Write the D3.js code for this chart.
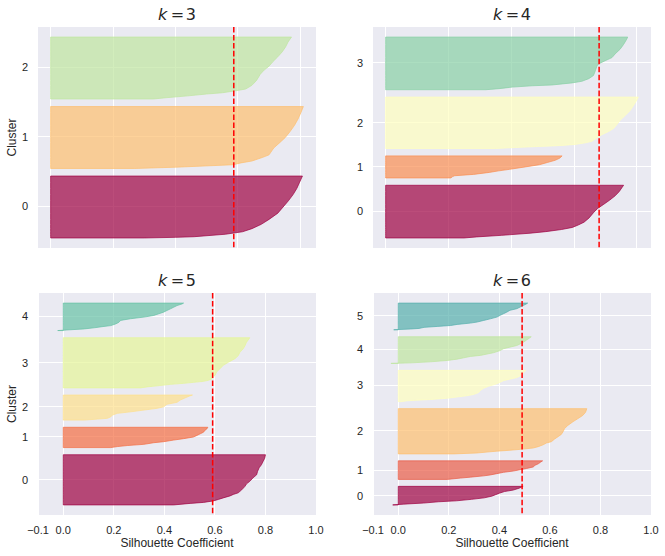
<!DOCTYPE html>
<html><head><meta charset="utf-8">
<script src="https://cdn.jsdelivr.net/npm/d3@7"></script>
<style>body{margin:0;background:#fff}</style>
</head><body>
<script>
// ---------------- data ----------------
const kValues = [3, 4, 5, 6];
const silhouetteScores = [0.587, 0.68, 0.591, 0.49];
const nSamples = 150;

const sizesK3 = [50, 50, 50];
const sizesK4 = [44, 19, 43, 44];
const sizesK5 = [43, 18, 22, 43, 24];
const sizesK6 = [17, 17, 40, 28, 24, 24];

// each cluster: sorted silhouette coefficients, as [fraction of cluster (bottom→top), coefficient]
const profilesK3 = [
  [[0,0.3],[0.01,0.4],[0.02,0.46],[0.06,0.56],[0.1,0.615],[0.15,0.645],[0.22,0.675],[0.3,0.7],[0.4,0.728],[0.5,0.745],[0.6,0.762],[0.7,0.777],[0.8,0.789],[0.9,0.798],[1,0.807]],
  [[0,0.27],[0.02,0.4],[0.06,0.585],[0.09,0.61],[0.12,0.645],[0.18,0.68],[0.22,0.7],[0.33,0.715],[0.42,0.735],[0.5,0.752],[0.6,0.768],[0.7,0.782],[0.8,0.793],[0.9,0.802],[1,0.81]],
  [[0,0.33],[0.02,0.37],[0.05,0.44],[0.08,0.5],[0.1,0.55],[0.13,0.59],[0.16,0.625],[0.22,0.645],[0.3,0.66],[0.4,0.672],[0.47,0.685],[0.53,0.7],[0.6,0.712],[0.68,0.728],[0.76,0.742],[0.84,0.753],[0.92,0.761],[1,0.772]]
];
const profilesK4 = [
  [[0,0.25],[0.02,0.29],[0.05,0.37],[0.09,0.46],[0.12,0.51],[0.16,0.56],[0.2,0.595],[0.25,0.615],[0.3,0.632],[0.38,0.648],[0.48,0.662],[0.56,0.675],[0.64,0.695],[0.72,0.714],[0.8,0.731],[0.88,0.744],[0.95,0.752],[1,0.758]],
  [[0,0.208],[0.06,0.213],[0.1,0.22],[0.16,0.28],[0.25,0.33],[0.32,0.36],[0.39,0.395],[0.5,0.445],[0.6,0.49],[0.7,0.515],[0.8,0.54],[0.9,0.555],[1,0.562]],
  [[0,0.351],[0.02,0.414],[0.04,0.488],[0.05,0.53],[0.06,0.562],[0.08,0.604],[0.11,0.636],[0.14,0.657],[0.21,0.673],[0.27,0.689],[0.33,0.71],[0.39,0.726],[0.46,0.736],[0.55,0.747],[0.64,0.763],[0.74,0.779],[0.83,0.789],[0.92,0.798],[1,0.805]],
  [[0,0.319],[0.02,0.361],[0.05,0.404],[0.075,0.467],[0.09,0.53],[0.11,0.562],[0.13,0.594],[0.16,0.625],[0.21,0.647],[0.27,0.662],[0.36,0.668],[0.45,0.673],[0.49,0.678],[0.55,0.699],[0.61,0.721],[0.68,0.731],[0.77,0.747],[0.86,0.758],[0.96,0.768],[1,0.771]]
];
const profilesK5 = [
  [[0,0.437],[0.03,0.502],[0.05,0.555],[0.08,0.594],[0.11,0.614],[0.14,0.633],[0.18,0.66],[0.21,0.673],[0.24,0.692],[0.3,0.706],[0.37,0.719],[0.42,0.725],[0.47,0.738],[0.54,0.751],[0.6,0.765],[0.67,0.769],[0.74,0.775],[0.8,0.784],[0.87,0.791],[0.93,0.797],[1,0.8]],
  [[0,0.188],[0.05,0.214],[0.1,0.253],[0.16,0.319],[0.24,0.358],[0.29,0.397],[0.37,0.437],[0.44,0.476],[0.52,0.515],[0.6,0.529],[0.68,0.542],[0.76,0.555],[0.86,0.561],[0.92,0.568],[1,0.572]],
  [[0,0.083],[0.04,0.135],[0.07,0.174],[0.13,0.188],[0.2,0.194],[0.27,0.214],[0.33,0.266],[0.4,0.319],[0.47,0.371],[0.53,0.397],[0.63,0.41],[0.71,0.45],[0.8,0.463],[0.89,0.483],[0.97,0.502],[1,0.511]],
  [[0,0.306],[0.02,0.332],[0.04,0.371],[0.07,0.424],[0.09,0.476],[0.11,0.515],[0.13,0.555],[0.15,0.574],[0.18,0.588],[0.22,0.594],[0.25,0.601],[0.32,0.607],[0.38,0.62],[0.45,0.633],[0.51,0.653],[0.58,0.679],[0.64,0.692],[0.71,0.699],[0.78,0.712],[0.84,0.719],[0.91,0.725],[0.97,0.734],[1,0.738]],
  [[0,-0.022],[0.03,0.03],[0.06,0.083],[0.1,0.122],[0.15,0.161],[0.18,0.188],[0.24,0.207],[0.3,0.22],[0.37,0.227],[0.43,0.266],[0.49,0.319],[0.55,0.358],[0.61,0.378],[0.67,0.397],[0.73,0.41],[0.79,0.424],[0.85,0.437],[0.91,0.45],[0.97,0.47],[1,0.476]]
];
const profilesK6 = [
  [[0,-0.022],[0.04,0.02],[0.1,0.1],[0.17,0.16],[0.22,0.23],[0.3,0.29],[0.38,0.34],[0.47,0.37],[0.55,0.385],[0.63,0.4],[0.72,0.42],[0.8,0.455],[0.9,0.478],[1,0.494]],
  [[0,0.194],[0.07,0.246],[0.12,0.285],[0.19,0.338],[0.24,0.364],[0.31,0.39],[0.38,0.416],[0.45,0.455],[0.52,0.482],[0.59,0.508],[0.67,0.534],[0.76,0.541],[0.84,0.554],[0.93,0.563],[1,0.571]],
  [[0,0.22],[0.02,0.312],[0.04,0.351],[0.06,0.39],[0.08,0.442],[0.1,0.482],[0.13,0.534],[0.16,0.554],[0.2,0.573],[0.24,0.586],[0.27,0.606],[0.33,0.619],[0.38,0.632],[0.43,0.645],[0.49,0.652],[0.56,0.658],[0.63,0.671],[0.71,0.691],[0.78,0.711],[0.85,0.73],[0.92,0.741],[1,0.746]],
  [[0,0.01],[0.03,0.037],[0.07,0.128],[0.11,0.194],[0.15,0.233],[0.19,0.272],[0.23,0.298],[0.29,0.318],[0.36,0.325],[0.43,0.338],[0.49,0.357],[0.57,0.39],[0.62,0.403],[0.67,0.416],[0.72,0.442],[0.77,0.469],[0.82,0.482],[0.87,0.488],[0.94,0.497],[1,0.505]],
  [[0,-0.029],[0.02,0.05],[0.06,0.128],[0.11,0.194],[0.16,0.233],[0.21,0.259],[0.26,0.285],[0.3,0.325],[0.35,0.351],[0.4,0.377],[0.48,0.403],[0.55,0.416],[0.61,0.442],[0.67,0.469],[0.73,0.482],[0.79,0.495],[0.88,0.508],[0.94,0.518],[1,0.526]],
  [[0,-0.018],[0.03,0.05],[0.05,0.082],[0.09,0.102],[0.125,0.154],[0.16,0.207],[0.2,0.233],[0.25,0.285],[0.29,0.312],[0.35,0.338],[0.41,0.364],[0.475,0.39],[0.54,0.403],[0.6,0.416],[0.66,0.429],[0.73,0.442],[0.79,0.469],[0.85,0.482],[0.91,0.495],[0.975,0.508],[1,0.512]]
];

const xTicksBottom = [-0.1, 0, 0.2, 0.4, 0.6, 0.8, 1.0];
const xTicksTop = [0, 0.2, 0.4, 0.6, 0.8];
const xLabel = "Silhouette Coefficient";
const yLabel = "Cluster";

// ---------------- styling / layout ----------------
const W = 665, H = 556;
const spectralStops = ["#9e0142","#d53e4f","#f46d43","#fdae61","#fee08b","#ffffbf","#e6f598","#abdda4","#66c2a5","#3288bd","#5e4fa2"];
const spectral = d3.scaleLinear().domain(d3.range(11).map(i => i / 10)).range(spectralStops).interpolate(d3.interpolateRgb);
const textColor = "#262626";
const sans = "'Liberation Sans', Arial, Helvetica, sans-serif";

const panels = [
  {k: kValues[0], sizes: sizesK3, profiles: profilesK3, score: silhouetteScores[0], x: 38,  y: 27,  w: 278, h: 221, left: true,  bottom: false},
  {k: kValues[1], sizes: sizesK4, profiles: profilesK4, score: silhouetteScores[1], x: 373, y: 27,  w: 278, h: 221, left: false, bottom: false},
  {k: kValues[2], sizes: sizesK5, profiles: profilesK5, score: silhouetteScores[2], x: 38,  y: 293, w: 278, h: 222, left: true,  bottom: true},
  {k: kValues[3], sizes: sizesK6, profiles: profilesK6, score: silhouetteScores[3], x: 373, y: 293, w: 278, h: 222, left: false, bottom: true}
];

const svg = d3.select("body").append("svg").attr("width", W).attr("height", H)
  .style("display", "block").style("background", "#fff");

const padding = Math.floor(nSamples / 30);

panels.forEach((p, pi) => {
  // cluster vertical positions
  let pos = padding;
  const clusters = p.sizes.map((n, i) => {
    const c = {i, n, pos, tick: pos + Math.floor(n / 2), profile: p.profiles[i]};
    pos += n + padding;
    return c;
  });
  const last = clusters[clusters.length - 1];
  const yMin = padding, yMax = last.pos + last.n - 1;
  const yR = yMax - yMin;
  const y = d3.scaleLinear().domain([yMin - 0.05 * yR, yMax + 0.05 * yR]).range([p.y + p.h, p.y]);

  let x;
  if (p.bottom) {
    x = d3.scaleLinear().domain([d3.min(xTicksBottom), d3.max(xTicksBottom)]).range([p.x, p.x + p.w]);
  } else {
    const vals = p.profiles.flat().map(d => d[1]);
    const lo = Math.min(0, d3.min(vals)), hi = Math.max(d3.max(vals), p.score);
    const r = hi - lo;
    x = d3.scaleLinear().domain([lo - 0.05 * r, hi + 0.05 * r]).range([p.x, p.x + p.w]);
  }
  const xTicks = p.bottom ? xTicksBottom : xTicksTop;

  const g = svg.append("g");
  const clipId = "clip" + pi;
  g.append("clipPath").attr("id", clipId).append("rect")
    .attr("x", p.x).attr("y", p.y).attr("width", p.w).attr("height", p.h);

  g.append("rect").attr("x", p.x).attr("y", p.y).attr("width", p.w).attr("height", p.h).attr("fill", "#eaeaf2");

  // grid
  const grid = g.append("g").attr("stroke", "#fff").attr("stroke-width", 1).attr("shape-rendering", "crispEdges");
  grid.selectAll("line.v").data(xTicks).join("line").attr("class", "v")
    .attr("x1", d => x(d)).attr("x2", d => x(d)).attr("y1", p.y).attr("y2", p.y + p.h);
  grid.selectAll("line.h").data(clusters).join("line").attr("class", "h")
    .attr("x1", p.x).attr("x2", p.x + p.w).attr("y1", d => y(d.tick)).attr("y2", d => y(d.tick));

  // silhouettes
  const plot = g.append("g").attr("clip-path", `url(#${clipId})`);
  clusters.forEach(c => {
    const col = spectral(c.i / p.k);
    const area = d3.area()
      .y(d => y(c.pos + d[0] * (c.n - 1)))
      .x0(x(0))
      .x1(d => x(d[1]));
    plot.append("path").attr("d", area(c.profile))
      .attr("fill", col).attr("fill-opacity", 0.7)
      .attr("stroke", col).attr("stroke-opacity", 0.7).attr("stroke-width", 1)
      .attr("stroke-linejoin", "round");
  });

  // mean silhouette line
  plot.append("line").attr("x1", x(p.score)).attr("x2", x(p.score))
    .attr("y1", p.y).attr("y2", p.y + p.h)
    .attr("stroke", "#ff0000").attr("stroke-width", 1.5).attr("stroke-dasharray", "5.55 2.4");

  // y tick labels
  g.append("g").selectAll("text").data(clusters).join("text")
    .attr("x", p.x - 10).attr("y", d => y(d.tick)).attr("dy", "0.36em")
    .attr("text-anchor", "end").attr("font-family", sans).attr("font-size", 11).attr("fill", textColor)
    .text(d => d.i);

  if (p.bottom) {
    const fmt = d3.format(".1f");
    g.append("g").selectAll("text").data(xTicks).join("text")
      .attr("x", d => x(d)).attr("y", p.y + p.h + 19)
      .attr("text-anchor", "middle").attr("font-family", sans).attr("font-size", 11).attr("fill", textColor)
      .text(d => fmt(d));
    g.append("text").attr("x", p.x + p.w / 2).attr("y", p.y + p.h + 32)
      .attr("text-anchor", "middle").attr("font-family", sans).attr("font-size", 12).attr("fill", textColor)
      .text(xLabel);
  }
  if (p.left) {
    g.append("text").attr("transform", `translate(16,${p.y + p.h / 2}) rotate(-90)`)
      .attr("text-anchor", "middle").attr("font-family", sans).attr("font-size", 12).attr("fill", textColor)
      .text(yLabel);
  }

  // title  k = N (math style)
  const t = g.append("text").attr("x", p.x + p.w / 2).attr("y", p.y - 7)
    .attr("text-anchor", "middle").attr("font-family", "'DejaVu Sans', sans-serif").attr("font-size", 16).attr("fill", textColor);
  t.append("tspan").attr("font-style", "italic").text("k");
  t.append("tspan").attr("dx", 3.5).text("=");
  t.append("tspan").attr("dx", 1.5).text(String(p.k));
});
</script>
</body></html>
